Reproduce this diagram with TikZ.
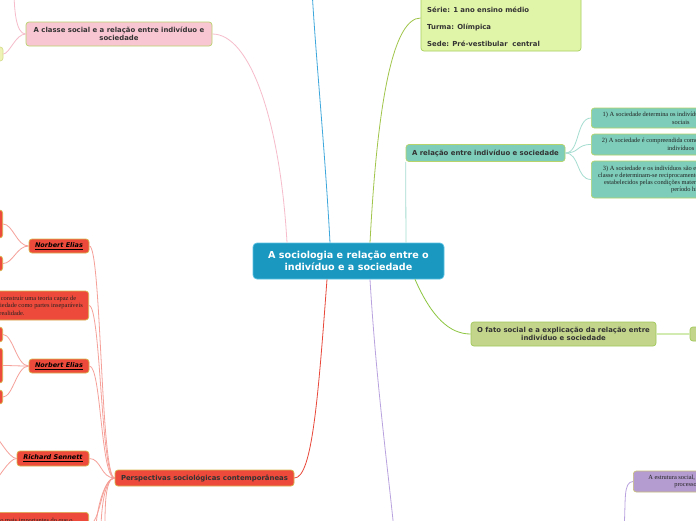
\documentclass[tikz,border=0pt]{standalone}
\usepackage{fontspec}
\setmainfont{DejaVu Sans}
\newfontfamily\serifb{Liberation Serif}
\definecolor{txtc}{HTML}{333333}
\definecolor{stxt}{HTML}{222222}
\definecolor{centerF}{HTML}{1A98C0}
\definecolor{centerD}{HTML}{5CC2E4}
\definecolor{infoF}{HTML}{E1F5A8}
\definecolor{infoD}{HTML}{A8CF5E}
\definecolor{pinkF}{HTML}{F8C5D2}
\definecolor{pinkD}{HTML}{B9D46E}
\definecolor{yelF}{HTML}{EEF2B4}
\definecolor{yelD}{HTML}{D6DE8E}
\definecolor{tealF}{HTML}{7DCDBA}
\definecolor{tealD}{HTML}{B6D46A}
\definecolor{oliveF}{HTML}{C2D58B}
\definecolor{oliveD}{HTML}{A2C95A}
\definecolor{redF}{HTML}{EE4A3B}
\definecolor{redD}{HTML}{D8B64E}
\definecolor{purpF}{HTML}{B49CD0}
\definecolor{purpD}{HTML}{C9C07A}
\definecolor{blueL}{HTML}{3EA8DC}
\definecolor{pinkL}{HTML}{F6BCCB}
\definecolor{oliveL}{HTML}{A0C54A}
\definecolor{tealL}{HTML}{A5DDD0}
\definecolor{greenL}{HTML}{8CC63F}
\definecolor{purpL}{HTML}{B9A3DE}
\definecolor{redL}{HTML}{E8473A}
\definecolor{redL2}{HTML}{F5A199}
\definecolor{fatoL}{HTML}{D2EBB0}
\tikzset{
  mbox/.style={draw, rounded corners=3pt, line width=0.7pt, inner sep=0pt, align=center, text=txtc},
  sansf/.style={font=\fontsize{6.9}{8.4}\selectfont\bfseries},
  seriff/.style={font=\serifb\fontsize{6.4}{7.2}\selectfont, text=stxt},
  namef/.style={font=\fontsize{6.5}{8}\selectfont\bfseries\itshape, text=black},
  conn/.style={line width=0.8pt},
}
\begin{document}
\begin{tikzpicture}[x=1pt,y=-1pt]
\useasboundingbox (0,0) rectangle (696,520);
\clip (0,0) rectangle (696,520);
\fill[white] (0,0) rectangle (696,520);
% central
\node[mbox, fill=centerF, draw=centerD, rounded corners=4pt, minimum width=191pt, minimum height=36pt, text=white, font=\fontsize{9.6}{12.5}\selectfont\bfseries] (center) at (348.5,261) {A sociologia e relação entre o\\indivíduo e a sociedade};
% info box
\node[mbox, fill=infoF, draw=infoD, minimum width=160pt, minimum height=66pt] (info) at (501,18) {};
\node[sansf, anchor=base west, text=txtc, inner sep=0pt] (serie) at (427,12.5) {Série: 1 ano ensino médio};
\node[sansf, anchor=base west, text=txtc, inner sep=0pt] (turma) at (427,29.5) {Turma: Olímpica};
\node[sansf, anchor=base west, text=txtc, inner sep=0pt] (sede) at (427,46.5) {Sede: Pré-vestibular\ \ central};
% classe
\node[mbox, fill=pinkF, draw=pinkD, minimum width=186pt, minimum height=24pt, sansf] (classe) at (119,34) {A classe social e a relação entre indivíduo e\\sociedade};
\node[mbox, fill=yelF, draw=yelD, minimum width=60pt, minimum height=14pt] (classeChild) at (-27,54) {};
\coordinate (pinkUp) at (14,-12);
% relacao
\node[mbox, fill=tealF, draw=tealD, minimum width=159pt, minimum height=17pt, sansf] (relacao) at (485.5,153) {A relação entre indivíduo e sociedade};
\node[mbox, fill=tealF, draw=tealD, anchor=west, minimum width=179pt, minimum height=20pt, seriff, font=\serifb\fontsize{6.4}{7.7}\selectfont] (r1) at (591,118) {1) A sociedade determina os indivíduos e todas suas relações\\sociais};
\node[mbox, fill=tealF, draw=tealD, anchor=west, minimum width=179pt, minimum height=21pt, seriff, font=\serifb\fontsize{6.4}{7.7}\selectfont] (r2) at (591,144.5) {2) A sociedade é compreendida como resultado das ações dos\\indivíduos};
\node[mbox, fill=tealF, draw=tealD, anchor=west, minimum width=203pt, minimum height=37pt, seriff] (r3) at (591,179.5) {3) A sociedade e os indivíduos são explicados a partir dos conflitos de\\classe e determinam-se reciprocamente a partir dos interesses econômicos\\estabelecidos pelas condições materiais de produção próprias de cada\\período histórico};
% fato
\node[mbox, fill=oliveF, draw=oliveD, minimum width=185pt, minimum height=24pt, sansf, font=\fontsize{6.9}{8.7}\selectfont\bfseries] (fato) at (563.5,334) {O fato social e a explicação da relação entre\\indivíduo e sociedade};
\node[mbox, fill=oliveF, draw=oliveD, minimum width=100pt, minimum height=14pt] (fatoChild) at (740,334) {};
% estrutura
\node[mbox, fill=purpF, draw=purpD, anchor=west, minimum width=126pt, minimum height=21pt, seriff, font=\serifb\fontsize{6.4}{7.7}\selectfont] (estrutura) at (633,481.5) {A estrutura social, as instituições e os\\processos sociais};
\coordinate (estrEnd) at (624,530);
% perspectivas
\node[mbox, fill=redF, draw=redD, minimum width=179pt, minimum height=16pt, sansf] (persp) at (204.5,478) {Perspectivas sociológicas contemporâneas};
\node[mbox, fill=redF, draw=redD, minimum width=60pt, minimum height=14pt, namef] (ne1) at (59,246) {\underline{Norbert Elias}};
\node[mbox, fill=redF, draw=redD, anchor=east, minimum width=161pt, minimum height=29pt, seriff, font=\serifb\fontsize{6.4}{7.4}\selectfont] (teoria) at (89,305.5) {Norbert Elias procurou construir uma teoria capaz de\\pensar o indivíduo e a sociedade como partes inseparáveis\\da realidade.};
\node[mbox, fill=redF, draw=redD, minimum width=60pt, minimum height=14pt, namef] (ne2) at (59,366) {\underline{Norbert Elias}};
\node[mbox, fill=redF, draw=redD, minimum width=72pt, minimum height=15pt, namef] (rs) at (53,458.5) {\underline{Richard Sennett}};
\node[mbox, fill=redF, draw=redD, anchor=north east, minimum width=160pt, minimum height=24pt, seriff] (bottom) at (89,512) {As relações sociais são mais importantes do que o\\indivíduo isolado};
% left slivers
\node[mbox, fill=redF, draw=redD, anchor=east, minimum width=80pt, minimum height=28pt] (a1) at (3,224) {};
\node[mbox, fill=redF, draw=redD, anchor=east, minimum width=80pt, minimum height=15pt] (a2) at (3,263.5) {};
\node[mbox, fill=redF, draw=redD, anchor=east, minimum width=80pt, minimum height=15pt] (b1) at (3,334.5) {};
\node[mbox, fill=redF, draw=redD, anchor=east, minimum width=80pt, minimum height=35pt] (b2) at (3,365.5) {};
\node[mbox, fill=redF, draw=redD, anchor=east, minimum width=80pt, minimum height=14pt] (b3) at (3,397) {};
\coordinate (rsA) at (-8,432);
\coordinate (rsB) at (-8,484);
\coordinate (down1) at (96,530);
\coordinate (down2) at (101,530);
\coordinate (down3) at (105,530);
\coordinate (blueEnd) at (312,-10);
\coordinate (purpEnd) at (394,530);
% connectors from center
\draw[conn, blueL] ([xshift=-18.5pt]center.north) .. controls (325,150) and (316,60) .. (blueEnd);
\draw[conn, pinkL] ([xshift=-61.5pt]center.north) .. controls (280,120) and (250,34) .. (classe.east);
\draw[conn, oliveL] ([xshift=21.5pt]center.north) .. controls (378,90) and (395,18) .. (info.west);
\draw[conn, tealL] ([xshift=57.5pt]center.north) -- (relacao.south west);
\draw[conn, greenL] ([xshift=66.5pt]center.south) .. controls (432,318) and (450,334) .. (fato.west);
\draw[conn, purpL] ([xshift=21.5pt]center.south) .. controls (376,380) and (388,470) .. (purpEnd);
\draw[conn, redL] ([xshift=-21.5pt]center.south) .. controls (318,400) and (312,478) .. (persp.east);
% teal children
\draw[conn, tealL] (relacao.east) .. controls (580,153) and (576,118) .. (r1.west);
\draw[conn, tealL] (relacao.east) .. controls (580,153) and (576,144.5) .. (r2.west);
\draw[conn, tealL] (relacao.east) .. controls (580,153) and (576,179.5) .. (r3.west);
\draw[line width=2pt, fatoL] (fato.east) -- (fatoChild.west);
\draw[conn, purpL] (estrutura.west) .. controls (623,482) and (626,500) .. (estrEnd);
% classe children
\draw[conn, pinkL] (classe.west) .. controls +(-10,0) and +(6,0) .. (classeChild.east);
\draw[conn, pinkL] (classe.west) .. controls +(-10,0) and +(0,20) .. (pinkUp);
% perspectivas fan
\foreach \c in {ne1,teoria,ne2,rs,bottom}{
  \draw[conn, redL2] (persp.west) .. controls +(-14,0) and +(12,0) .. (\c.east);
}
\foreach \c in {down1,down2,down3}{
  \draw[conn, redL2] (persp.west) .. controls +(-10,0) and +(0,-20) .. (\c);
}
\foreach \c in {a1,a2}{
  \draw[conn, redL2] (ne1.west) .. controls +(-12,0) and +(10,0) .. (\c.east);
}
\foreach \c in {b1,b2,b3}{
  \draw[conn, redL2] (ne2.west) .. controls +(-12,0) and +(10,0) .. (\c.east);
}
\draw[conn, redL2] (rs.west) .. controls +(-8,0) and +(6,4) .. (rsA);
\draw[conn, redL2] (rs.west) .. controls +(-8,0) and +(6,-4) .. (rsB);
\end{tikzpicture}
\end{document}
